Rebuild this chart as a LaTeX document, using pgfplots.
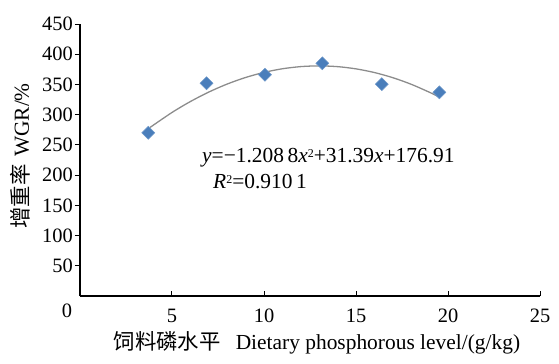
\documentclass[border=0pt]{standalone}
\usepackage{fontspec}
\setmainfont{Liberation Serif}
\newfontfamily\cjk{Noto Sans CJK SC}
\usepackage{pgfplots}
\pgfplotsset{compat=1.18}
\definecolor{ptblue}{HTML}{4A7EBB}
\definecolor{trend}{HTML}{8C8C8C}
\begin{document}
\begin{tikzpicture}
\begin{axis}[
 anchor=origin, at={(0,0)},
 scale only axis, width=460bp, height=272bp,
 xmin=0, xmax=25, ymin=0, ymax=450,
 axis x line=bottom, axis y line=left,
 axis line style={-, line width=1.1bp},
 xtick={5,10,...,25}, ytick={50,100,...,450},
 /pgf/number format/assume math mode=true,
 extra x ticks={0}, extra x tick labels={0},
 extra x tick style={major tick length=0pt, xticklabel style={xshift=-13bp}},
 tick align=outside, major tick length=5bp,
 tick style={black, line width=1bp},
 xtick style={yshift=5bp},
 tick label style={font=\fontsize{20.5}{24}\selectfont, inner sep=2bp},
 xticklabel shift=6bp,
 label style={font=\fontsize{21.5}{26}\selectfont},
 xlabel={{\cjk 饲料磷水平}\hspace{0.7em}Dietary phosphorous level/(g/kg)},
 xlabel style={at={(axis description cs:0.515,-0.1985)}, anchor=base},
 ylabel={{\cjk 增重率}\hspace{0.35em}WGR/\%},
 ylabel style={at={(axis description cs:-0.111,0.515)}, anchor=base, rotate=0},
 clip=false,
]
\addplot[trend, line width=1.3bp, smooth] coordinates {
(3.8,278.74) (5,303.64) (6,321.73) (7,337.41) (8,350.67) (9,361.51)
(10,369.93) (11,375.94) (12,379.52) (13,380.69) (14,379.45) (15,375.78)
(16,369.70) (17,361.20) (18,350.28) (19,336.94) (19.5,329.37)};
\addplot[only marks, mark=square*, mark size=4.6bp,
 mark options={rotate=45, fill=ptblue, draw=ptblue!80!white, line width=0.5bp}] coordinates {
(3.71,270) (6.88,352) (10.05,366) (13.17,385) (16.4,350.5) (19.53,337)};
\node[anchor=west, inner sep=0pt, font=\fontsize{21.5}{26}\selectfont] at (axis cs:6.63,228.6)
 {\textit{y}=−1.208\,8\textit{x}\raisebox{0.55ex}{\fontsize{12}{14}\selectfont 2}+31.39\textit{x}+176.91};
\node[anchor=west, inner sep=0pt, font=\fontsize{21.5}{26}\selectfont] at (axis cs:7.23,189)
 {\textit{R}\raisebox{0.55ex}{\fontsize{12}{14}\selectfont 2}=0.910\,1};
\end{axis}
\pgfresetboundingbox
\useasboundingbox (-80bp,-68bp) rectangle (479bp,296bp);
\end{tikzpicture}
\end{document}
